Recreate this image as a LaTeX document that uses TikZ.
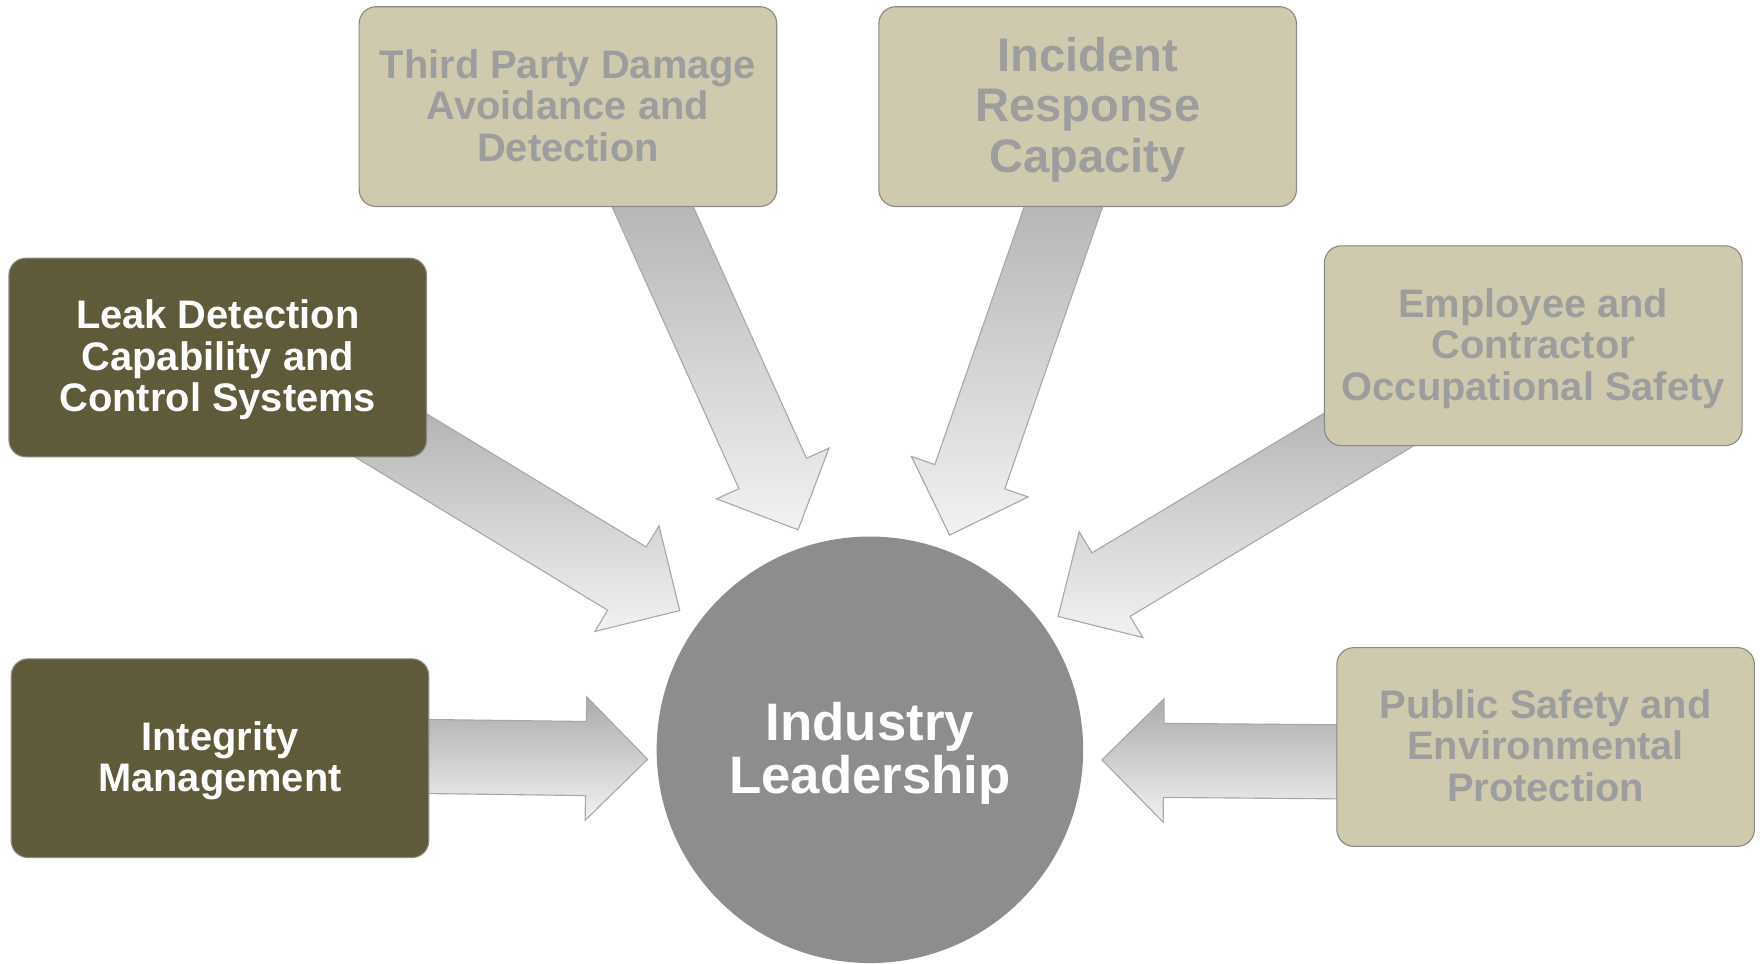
\documentclass[tikz,border=0pt]{standalone}
\usepackage{fontspec}
\setmainfont{Liberation Sans}
\usetikzlibrary{calc,backgrounds}
\definecolor{olivefill}{HTML}{5F5A39}
\definecolor{beigefill}{HTML}{CFCAAD}
\definecolor{beigetext}{HTML}{9D9D9D}
\definecolor{panelline}{HTML}{8A8A80}
\definecolor{hubfill}{HTML}{8D8D8D}
\definecolor{arrline}{HTML}{A8A8A8}
\definecolor{arrtop}{HTML}{ABABAB}
\definecolor{arrbot}{HTML}{F2F2F2}
\newcommand\topstrut{\rule{0pt}{0.9em}}
\newcommand\botstrut{\rule[-0.25em]{0pt}{0.25em}}
\tikzset{
  panel/.style={rectangle, rounded corners=15pt, minimum width=372pt, minimum height=177pt,
    inner sep=0pt, align=center, line width=1pt, draw=panelline},
  darkpanel/.style={panel, fill=olivefill, text=white},
  lightpanel/.style={panel, fill=beigefill, text=beigetext},
  panelfont/.style={font=\fontsize{35.5}{37}\selectfont\bfseries},
  blockarr/.style={draw=arrline, line width=1pt, top color=arrtop, bottom color=arrbot, line join=miter}
}
\newcommand\blockarrow[3]{%
  \coordinate (T) at ($(#1)!-#3!(#2)$);
  \coordinate (H) at ($(#2)!55pt!(T)$);
  \path[blockarr] ($(T)!33pt!90:(#2)$) -- ($(H)!33pt!90:(#2)$) -- ($(H)!55pt!90:(#2)$) -- (#2)
    -- ($(H)!55pt!-90:(#2)$) -- ($(H)!33pt!-90:(#2)$) -- ($(T)!33pt!-90:(#2)$) -- cycle;}
\begin{document}
\begin{tikzpicture}[x=1pt,y=-1pt]
\useasboundingbox (0,0) rectangle (1568,858);
% boxes
\node[darkpanel, panelfont] (leak) at (194,318.5) {\topstrut Leak Detection\\Capability and\\Control Systems\botstrut};
\node[darkpanel, panelfont] (integ) at (196,675.5) {\topstrut Integrity\\Management\botstrut};
\node[lightpanel, panelfont, minimum height=178pt] (third) at (506,95) {\topstrut Third Party Damage\\Avoidance and\\Detection\botstrut};
\node[lightpanel, minimum height=178pt, font=\fontsize{42}{45}\selectfont\bfseries] (incid) at (969,95) {\topstrut Incident\\Response\\Capacity\botstrut};
\node[lightpanel, panelfont, minimum height=178pt] (empl) at (1366,308) {\topstrut Employee and\\Contractor\\Occupational Safety\botstrut};
\node[lightpanel, panelfont] (pub) at (1377,665.5) {\topstrut Public Safety and\\Environmental\\Protection\botstrut};
% hub
\node[circle, fill=hubfill, minimum size=380pt, inner sep=0pt, align=center, text=white,
  font=\fontsize{47}{48}\selectfont\bfseries] (hub) at (775,668) {\topstrut Industry\\Leadership\botstrut};
% arrow ends
\coordinate (sA) at (leak.south east);
\coordinate (sB) at ($(third.south)+(75.6,0)$);
\coordinate (sC) at ($(incid.south)+(-21.7,0)$);
\coordinate (sD) at ($(empl.south west)+(15.4,0)$);
\coordinate (sE) at ($(pub.west)+(0,13.2)$);
\coordinate (sF) at ($(integ.east)+(0,-1.5)$);
\coordinate (tA) at ($(hub.center)+(-169.4,-124)$);
\coordinate (tB) at ($(hub.center)+(-64,-196)$);
\coordinate (tC) at ($(hub.center)+(71,-191.3)$);
\coordinate (tD) at ($(hub.center)+(167.7,-118.8)$);
\coordinate (tE) at ($(hub.center)+(206.7,9)$);
\coordinate (tF) at ($(hub.center)+(-198,8.5)$);
\begin{pgfonlayer}{background}
\blockarrow{sA}{tA}{80pt}
\blockarrow{sB}{tB}{50pt}
\blockarrow{sC}{tC}{50pt}
\blockarrow{sD}{tD}{80pt}
\blockarrow{sE}{tE}{60pt}
\blockarrow{sF}{tF}{50pt}
\end{pgfonlayer}
\end{tikzpicture}
\end{document}
